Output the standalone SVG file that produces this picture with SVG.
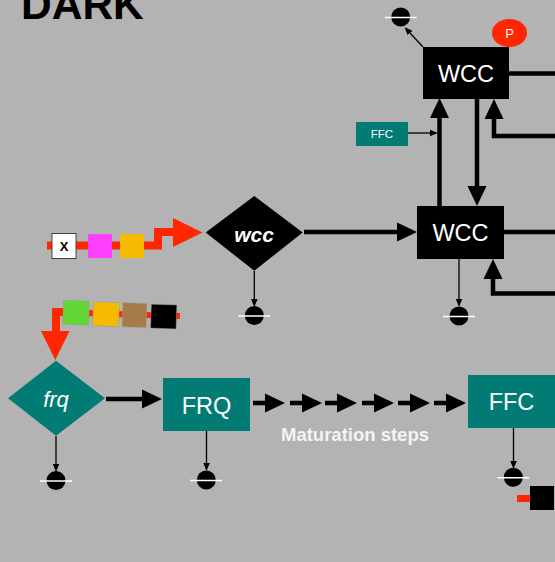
<svg xmlns="http://www.w3.org/2000/svg" width="555" height="562" viewBox="0 0 555 562">
<defs>
<style>
.bg{fill:#b3b3b3}
.blk{fill:#000}
.teal{fill:#017b74}
.lbl{font-family:"Liberation Sans",Arial,sans-serif;fill:#fff;text-anchor:middle;dominant-baseline:central}
.thick{stroke:#000;stroke-width:4.5;fill:none;marker-end:url(#big)}
.plain{stroke:#000;stroke-width:4.5;fill:none}
.thin{stroke:#000;stroke-width:1.3;fill:none;marker-end:url(#small)}
.red{stroke:#ff2600;fill:none}
.sink circle{fill:#000}
.sink line{stroke:#fff;stroke-width:1.5}
</style>
<marker id="big" markerUnits="userSpaceOnUse" markerWidth="20" markerHeight="20" refX="0" refY="9.5" orient="auto" viewBox="0 0 20 19">
<path d="M0,0 L20,9.5 L0,19 Z" fill="#000"/>
</marker>
<marker id="small" markerUnits="userSpaceOnUse" markerWidth="8" markerHeight="7" refX="0" refY="3.25" orient="auto" viewBox="0 0 8 6.5">
<path d="M0,0 L8,3.25 L0,6.5 Z" fill="#000"/>
</marker>
<g id="sink" class="sink"><circle cx="0" cy="0" r="9.5"/><line x1="-16" y1="0.5" x2="16" y2="0.5"/></g>
<path id="step" d="M0,0 H12" class="thick"/>
</defs>
<rect class="bg" x="0" y="0" width="555" height="562"/>
<text x="21" y="19" style="font-family:'Liberation Sans',Arial,sans-serif;font-weight:bold;font-size:42.5px;fill:#000">DARK</text>

<g id="connectors">
<path class="thin" d="M423,47 L410,33"/>
<path class="plain" d="M509,73.5 H555"/>
<path class="thick" d="M555,136 H494 V119"/>
<path class="thick" d="M439.5,206 V118"/>
<path class="thick" d="M477,99 V186"/>
<path class="thin" d="M408,133 H430"/>
<path class="thick" d="M304,232 H397"/>
<path class="plain" d="M504,232 H555"/>
<path class="thick" d="M555,293.5 H493 V279"/>
<path class="thin" d="M459,259 V299"/>
<path class="thin" d="M254.3,271 V299"/>
<path class="thin" d="M56,436 V464"/>
<path class="thin" d="M206.5,431 V463"/>
<path class="thin" d="M513.5,428 V461"/>
<path class="thick" d="M106,399 H142"/>
<use href="#step" x="253" y="403"/>
<use href="#step" x="290" y="403"/>
<use href="#step" x="325" y="403"/>
<use href="#step" x="362" y="403"/>
<use href="#step" x="398" y="403"/>
<use href="#step" x="434" y="403"/>
</g>

<g id="sinks">
<use href="#sink" x="400.7" y="17"/>
<use href="#sink" x="254.3" y="315.5"/>
<use href="#sink" x="459" y="316"/>
<use href="#sink" x="56" y="480.5"/>
<use href="#sink" x="206.3" y="480"/>
<use href="#sink" x="513.3" y="477.3"/>
</g>

<g id="wcc-top">
<rect class="blk" x="423" y="47" width="86" height="52"/>
<text class="lbl" x="466" y="74" font-size="23.5">WCC</text>
</g>
<g id="p-badge">
<ellipse cx="509.5" cy="33" rx="17.5" ry="14" fill="#ff2600"/>
<text class="lbl" x="509.5" y="33.5" font-size="13">P</text>
</g>
<g id="ffc-small">
<rect class="teal" x="356" y="122" width="52" height="24"/>
<text class="lbl" x="382" y="134" font-size="11.5">FFC</text>
</g>
<g id="wcc-bottom">
<rect class="blk" x="417" y="206" width="87" height="53"/>
<text class="lbl" x="460.5" y="233" font-size="23.5">WCC</text>
</g>
<g id="wcc-diamond">
<path class="blk" d="M205.7,232.5 L254.3,196 L302.7,232.5 L254.3,270.7 Z"/>
<text class="lbl" x="254" y="234" font-size="21" font-weight="bold" font-style="italic">wcc</text>
</g>
<g id="frq-diamond">
<path class="teal" d="M8,398.3 L56,360.7 L105,398.3 L56,435.7 Z"/>
<text class="lbl" x="56" y="399" font-size="22" font-style="italic">frq</text>
</g>
<g id="frq-box">
<rect class="teal" x="163" y="378" width="87" height="53"/>
<text class="lbl" x="206.5" y="405.5" font-size="23.5">FRQ</text>
</g>
<g id="ffc-box">
<rect class="teal" x="468" y="375" width="87" height="53"/>
<text class="lbl" x="511.5" y="402" font-size="23.5">FFC</text>
</g>
<text x="355" y="441" style="font-family:'Liberation Sans',Arial,sans-serif;font-weight:bold;font-size:18.5px;fill:#f4f4f4;text-anchor:middle">Maturation steps</text>

<g id="chain-1">
<path class="red" stroke-width="8" d="M47,245.5 H158 V232 H175"/>
<polygon points="173,218 202.5,232.5 173,247" fill="#ff2600"/>
<rect x="52" y="233.5" width="24" height="25" fill="#fff" stroke="#444" stroke-width="1"/>
<text x="64" y="246.5" style="font-family:'Liberation Sans',Arial,sans-serif;font-weight:bold;font-size:13px;fill:#000;text-anchor:middle;dominant-baseline:central">X</text>
<rect x="88" y="234" width="24" height="24" fill="#ff40ff"/>
<rect x="120" y="234" width="24" height="24" fill="#f8ba00"/>
</g>

<g id="chain-2">
<g transform="rotate(1.8 115 315)">
<path class="red" stroke-width="6" d="M52,314 H180"/>
<rect x="63" y="302" width="26" height="24" fill="#61d836" stroke="#999" stroke-width="0.5"/>
<rect x="93" y="302.5" width="26" height="24" fill="#f8ba00" stroke="#999" stroke-width="0.5"/>
<rect x="122.5" y="302.5" width="24" height="24" fill="#a67b48" stroke="#999" stroke-width="0.5"/>
<rect x="151" y="303" width="25.5" height="24" fill="#000" stroke="#999" stroke-width="0.5"/>
</g>
<path class="red" stroke-width="8" d="M56,332 V312 H63"/>
<polygon points="41,331 69.5,331 55.3,360" fill="#ff2600"/>
</g>

<g id="chain-3">
<path class="red" stroke-width="7" d="M517,498.5 H531"/>
<rect x="530" y="486" width="24" height="24" fill="#000"/>
</g>
</svg>
